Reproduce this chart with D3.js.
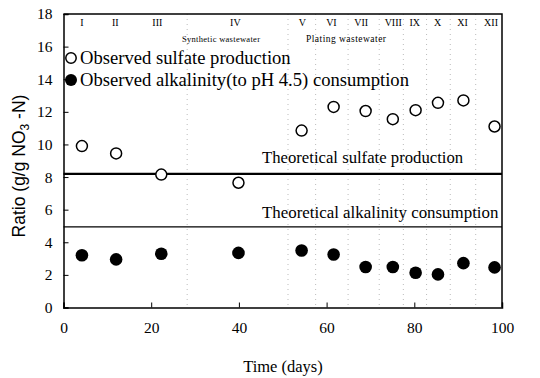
<!DOCTYPE html>
<html>
<head>
<meta charset="utf-8">
<script src="https://cdn.jsdelivr.net/npm/d3@7"></script>
<style>
  body { margin: 0; background: #fff; }
  text { font-family: "Liberation Serif", "DejaVu Serif", serif; fill: #000; }
</style>
</head>
<body>
<svg id="chart" width="540" height="378"></svg>
<script>
// phase data (days)
const days      = [4.2, 12.0, 22.3, 39.9, 54.3, 61.6, 68.9, 75.1, 80.3, 85.4, 91.2, 98.3];
const sulfate   = [9.9, 9.45, 8.15, 7.65, 10.85, 12.3, 12.05, 11.55, 12.1, 12.55, 12.7, 11.1];
const alkalin   = [3.2, 2.95, 3.3, 3.35, 3.5, 3.25, 2.48, 2.48, 2.13, 2.03, 2.72, 2.46];
const phaseNames = ["I","II","III","IV","V","VI","VII","VIII","IX","X","XI","XII"];
const phaseAt    = [4.2, 11.8, 21.4, 39.2, 54.5, 61.1, 67.9, 75.2, 80.1, 85.3, 91.0, 97.5];
const boundaries = [28.2, 51.2, 57.5, 64.9, 72, 77.5, 82.8, 88.2, 94];
const theoSulfate = 8.2;
const theoAlk = 4.95;
const xTicks = [0, 20, 40, 60, 80, 100];
const yTicks = [0, 2, 4, 6, 8, 10, 12, 14, 16, 18];

const svg = d3.select("#chart");
const x = d3.scaleLinear().domain([0, 100]).range([63.5, 502]);
const y = d3.scaleLinear().domain([0, 18]).range([307.5, 14]);

// faint phase boundaries
svg.append("g").selectAll("line")
    .data(boundaries)
    .enter()
    .append("line")
    .attr("x1", d => x(d)).attr("x2", d => x(d))
    .attr("y1", y(18)).attr("y2", y(0))
    .attr("stroke", "#bbb")
    .attr("stroke-width", 1)
    .attr("stroke-dasharray", "1,4");

// axes (ticks inward)
const xAxis = svg.append("g")
    .attr("transform", `translate(0,${y(0)})`)
    .call(d3.axisBottom(x).tickValues(xTicks).tickSize(-5).tickPadding(14).tickFormat(d3.format("d")));
const yAxis = svg.append("g")
    .attr("transform", `translate(${x(0)},0)`)
    .call(d3.axisLeft(y).tickValues(yTicks).tickSize(-5).tickPadding(11).tickFormat(d3.format("d")));
[xAxis, yAxis].forEach(a => {
    a.select(".domain").attr("stroke", "#000").attr("stroke-width", 1.5);
    a.selectAll(".tick line").attr("stroke", "#000");
    a.selectAll("text").style("font-family", "Liberation Serif").style("font-size", "15.5px");
});

// top and right border
svg.append("path")
    .attr("d", `M${x(0)},${y(18)}H${x(100)}V${y(0)}`)
    .attr("fill", "none").attr("stroke", "#000").attr("stroke-width", 1.5);

// theoretical lines
svg.append("line")
    .attr("x1", x(0)).attr("x2", x(100))
    .attr("y1", y(theoSulfate)).attr("y2", y(theoSulfate))
    .attr("stroke", "#000").attr("stroke-width", 2.2);
svg.append("line")
    .attr("x1", x(0)).attr("x2", x(100))
    .attr("y1", y(theoAlk)).attr("y2", y(theoAlk))
    .attr("stroke", "#000").attr("stroke-width", 1.3);

svg.append("text")
    .attr("x", 262).attr("y", 163)
    .style("font-size", "16.7px")
    .text("Theoretical sulfate production");
svg.append("text")
    .attr("x", 262).attr("y", 218)
    .style("font-size", "16.9px")
    .text("Theoretical alkalinity consumption");

// points
svg.append("g").selectAll("circle")
    .data(days)
    .enter()
    .append("circle")
    .attr("cx", d => x(d))
    .attr("cy", (d, i) => y(sulfate[i]))
    .attr("r", 5.5)
    .attr("fill", "#fff")
    .attr("stroke", "#000")
    .attr("stroke-width", 1.5);
svg.append("g").selectAll("circle")
    .data(days)
    .enter()
    .append("circle")
    .attr("cx", d => x(d))
    .attr("cy", (d, i) => y(alkalin[i]))
    .attr("r", 6.3)
    .attr("fill", "#000");

// phase labels
svg.append("g").selectAll("text")
    .data(phaseNames)
    .enter()
    .append("text")
    .attr("x", (d, i) => x(phaseAt[i]))
    .attr("y", 26)
    .attr("text-anchor", "middle")
    .style("font-size", "10px")
    .text(d => d);

svg.append("text").attr("x", 182).attr("y", 42)
    .attr("textLength", 78)
    .style("font-size", "8.5px").text("Synthetic wastewater");
svg.append("text").attr("x", 306).attr("y", 42)
    .attr("textLength", 80)
    .style("font-size", "9.5px").text("Plating wastewater");

// legend
const legend = [
    {label: "Observed sulfate production", filled: false, cy: 58},
    {label: "Observed alkalinity(to pH 4.5) consumption", filled: true, cy: 80}
];
legend.forEach(l => {
    svg.append("circle")
        .attr("cx", 71).attr("cy", l.cy)
        .attr("r", l.filled ? 6 : 5.2)
        .attr("fill", l.filled ? "#000" : "#fff")
        .attr("stroke", "#000").attr("stroke-width", l.filled ? 0 : 1.5);
    svg.append("text")
        .attr("x", 80).attr("y", l.cy + 6)
        .style("font-size", "18.6px")
        .text(l.label);
});

// axis titles
svg.append("text")
    .attr("x", 283).attr("y", 372)
    .attr("text-anchor", "middle")
    .style("font-size", "16.5px")
    .text("Time (days)");

const yt = svg.append("text")
    .attr("transform", "translate(25,166) rotate(-90)")
    .attr("text-anchor", "middle")
    .style("font-family", "Liberation Sans, Arial, sans-serif")
    .style("font-size", "17.5px");
yt.append("tspan").text("Ratio (g/g NO");
yt.append("tspan").attr("dy", 4).style("font-size", "12px").text("3");
yt.append("tspan").attr("dy", -4).text(" -N)");
</script>
</body>
</html>
